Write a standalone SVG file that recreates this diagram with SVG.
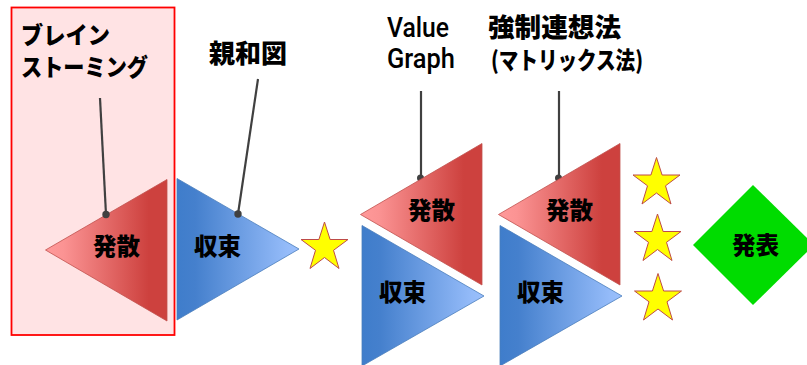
<svg xmlns="http://www.w3.org/2000/svg" width="807" height="365" viewBox="0 0 807 365">
<defs>
<linearGradient id="gr" x1="0" y1="0" x2="1" y2="0"><stop offset="0" stop-color="#ff9a9a"/><stop offset="0.15" stop-color="#fb9393"/><stop offset="0.85" stop-color="#cd413e"/><stop offset="1" stop-color="#cd413e"/></linearGradient>
<linearGradient id="gb" x1="0" y1="0" x2="1" y2="0"><stop offset="0" stop-color="#3f7dcb"/><stop offset="0.15" stop-color="#4580cd"/><stop offset="0.9" stop-color="#94bbf9"/><stop offset="1" stop-color="#9abffc"/></linearGradient>
<polygon id="star" points="0,-17.500 5.600,0 23.500,0 9,10.800 14.500,29 0,18 -14.500,29 -9,10.800 -23.500,0 -5.600,0"/>
</defs>
<style>
text{font-family:"Noto Sans CJK JP","Noto Sans",sans-serif;font-weight:900;fill:#000}
.l{font-size:26px}
.k{font-size:24px}
.n{font-size:23.5px}
.v{font-family:Roboto,"Noto Sans",sans-serif;font-size:27px;font-weight:500}
.r{fill:url(#gr);stroke:#c0504d;stroke-width:.8}
.b{fill:url(#gb);stroke:#4a7ebb;stroke-width:.8}
.s{fill:#ff0;stroke:#be4b48;stroke-width:1}
.c{stroke:#404040;stroke-width:2.2;fill:none}
.d{fill:#404040}
</style>
<g id="box"><rect x="11.500" y="7.500" width="163" height="327.500" fill="#ffe3e4" stroke="#ff0000" stroke-width="1.800"/></g>
<g id="connectors-behind">
<path class="c" d="M421 91V178"/><circle class="d" cx="420.500" cy="178" r="3.500"/>
<path class="c" d="M559 91V178"/><circle class="d" cx="558.500" cy="178" r="3.500"/>
</g>
<g id="t1"><polygon class="r" points="45.500,250 167,179.500 167,321"/><text class="n" x="93" y="255">発散</text></g>
<g id="t2"><polygon class="b" points="177,178.500 299,249 177,320"/><text class="n" x="194" y="255">収束</text></g>
<g id="t3"><polygon class="r" points="360.500,214.500 482,143.500 482,285"/><text class="n" x="408" y="219">発散</text></g>
<g id="t4"><polygon class="b" points="362,225.500 484,296 362,366"/><text class="n" x="379" y="301">収束</text></g>
<g id="t5"><polygon class="r" points="498.500,214.500 620,143.500 620,285"/><text class="n" x="546" y="219">発散</text></g>
<g id="t6"><polygon class="b" points="500,225.500 622,296 500,366"/><text class="n" x="517" y="301">収束</text></g>
<g id="s1"><use href="#star" class="s" x="324.500" y="239.500"/></g>
<g id="s2"><use href="#star" class="s" x="656.500" y="175"/></g>
<g id="s3"><use href="#star" class="s" x="657.500" y="231.500"/></g>
<g id="s4"><use href="#star" class="s" x="658" y="291"/></g>
<g id="d1"><polygon points="693,245 753,185 814,245 753,305" fill="#00dc00"/><text class="n" x="732" y="254">発表</text></g>
<g id="connectors">
<path class="c" d="M100 98L106 214.500"/><circle class="d" cx="106" cy="214.500" r="3.700"/>
<path class="c" d="M258 79L238 214"/><circle class="d" cx="238" cy="214" r="3.700"/>
</g>
<g id="labels">
<text class="k" x="21" y="44" textLength="89" lengthAdjust="spacingAndGlyphs">ブレイン</text>
<text class="k" x="21" y="76" textLength="127" lengthAdjust="spacingAndGlyphs">ストーミング</text>
<text class="l" x="209" y="63">親和図</text>
<text class="v" x="387" y="37" textLength="62" lengthAdjust="spacingAndGlyphs">Value</text>
<text class="v" x="387" y="68" textLength="68" lengthAdjust="spacingAndGlyphs">Graph</text>
<text class="l" x="488" y="37" textLength="133" lengthAdjust="spacingAndGlyphs">強制連想法</text>
<text class="k" x="491" y="69" textLength="152" lengthAdjust="spacingAndGlyphs">(マトリックス法)</text>
</g>
</svg>
